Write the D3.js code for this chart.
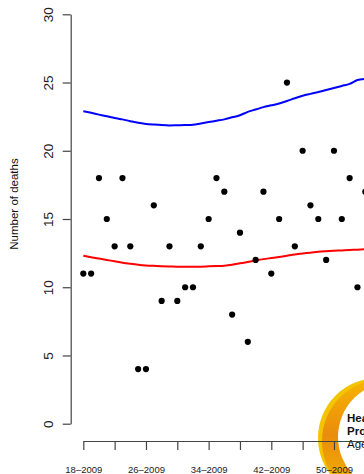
<!DOCTYPE html>
<html>
<head>
<meta charset="utf-8">
<script src="https://cdn.jsdelivr.net/npm/d3@7"></script>
<style>
  html, body { margin: 0; padding: 0; background: #fff; }
  svg { display: block; font-family: "Liberation Sans", Arial, Helvetica, sans-serif; }
</style>
</head>
<body>
<svg id="chart" width="364" height="474"></svg>
<script>
// ---- data ----
const weeks = [18,19,20,21,22,23,24,25,26,27,28,29,30,31,32,33,34,35,36,37,38,39,40,41,42,43,44,45,46,47,48,49,50,51,52,53,54];
const deaths = [11,11,18,15,13,18,13,4,4,16,9,13,9,10,10,13,15,18,17,8,14,6,12,17,11,15,25,13,20,16,15,12,20,15,18,10,17];
const upperThreshold = [22.9,22.78,22.65,22.53,22.4,22.3,22.17,22.05,21.97,21.92,21.88,21.86,21.87,21.88,21.9,22.0,22.1,22.2,22.3,22.45,22.6,22.85,23.02,23.2,23.33,23.47,23.65,23.85,24.03,24.17,24.3,24.45,24.6,24.75,24.9,25.18,25.27];
const expected = [12.31,12.2,12.1,12.0,11.9,11.8,11.72,11.65,11.6,11.57,11.54,11.52,11.5,11.5,11.5,11.51,11.53,11.55,11.58,11.65,11.75,11.85,11.96,12.06,12.14,12.22,12.31,12.4,12.47,12.53,12.6,12.64,12.67,12.7,12.73,12.75,12.78];
const yTicks = [0,5,10,15,20,25,30];
const xTicks = [18,22,26,30,34,38,42,46,50,54];
const xLabels = {18:"18–2009",26:"26–2009",34:"34–2009",42:"42–2009",50:"50–2009"};
const yTitle = "Number of deaths";
const logoLines = ["Health","Protection","Agency"];

const svg = d3.select("#chart");

const x = d3.scaleLinear().domain([18, 54]).range([83.3, 365.3]);
const y = d3.scaleLinear().domain([0, 30]).range([423.7, 14.3]);

// ---- logo (bottom right) ----
const logo = svg.append("g");
const defs = svg.append("defs");
const grad = defs.append("linearGradient").attr("id","orangeGrad")
  .attr("x1","0").attr("y1","0").attr("x2","0").attr("y2","1");
grad.append("stop").attr("offset","0%").attr("stop-color","#F7B500");
grad.append("stop").attr("offset","45%").attr("stop-color","#EA8C0C");
grad.append("stop").attr("offset","100%").attr("stop-color","#F4BE00");
function crescent(cx1, cy1, r1, cx2, cy2, r2) {
  const c = (cx, cy, r) => `M${cx - r},${cy} a${r},${r} 0 1,0 ${2*r},0 a${r},${r} 0 1,0 ${-2*r},0 Z`;
  return c(cx1, cy1, r1) + " " + c(cx2, cy2, r2);
}
logo.append("path")
  .attr("d", crescent(378, 438, 60, 384, 436, 54))
  .attr("fill", "#F3C400").attr("fill-rule", "evenodd");
logo.append("path")
  .attr("d", crescent(384, 441, 62, 393, 437, 55))
  .attr("fill", "url(#orangeGrad)").attr("fill-rule", "evenodd");
logo.selectAll("text.logo").data(logoLines).join("text")
  .attr("class","logo")
  .attr("x", 347)
  .attr("y", (d, i) => [422, 435, 448][i])
  .attr("font-size", 11.5)
  .attr("font-weight", (d, i) => i < 2 ? "bold" : "normal")
  .attr("fill", "#111")
  .text(d => d);

// ---- axes ----
const yAxis = d3.axisLeft(y).tickValues(yTicks).tickSize(8).tickSizeOuter(0);
const gy = svg.append("g").attr("transform", "translate(70.7,0)").call(yAxis);
gy.select(".domain").attr("stroke", "#444").attr("stroke-width", 1.2);
gy.selectAll(".tick line").attr("stroke", "#444").attr("stroke-width", 1.2);
gy.selectAll(".tick text")
  .attr("x", null).attr("dy", null)
  .attr("text-anchor", "middle")
  .attr("transform", "translate(-17.5,0) rotate(-90)")
  .attr("font-size", 13.5)
  .attr("font-family", "Liberation Sans, Arial, sans-serif")
  .attr("fill", "#222");

const xAxis = d3.axisBottom(x).tickValues(xTicks).tickSize(9).tickSizeOuter(0)
  .tickFormat(d => xLabels[d] || "");
const gx = svg.append("g").attr("transform", "translate(0,441)").call(xAxis);
gx.select(".domain").attr("stroke", "#444").attr("stroke-width", 1.2);
gx.selectAll(".tick line").attr("stroke", "#444").attr("stroke-width", 1.2);
gx.selectAll(".tick text")
  .attr("y", 31.5).attr("dy", null)
  .attr("font-size", 9.5)
  .attr("font-family", "Liberation Sans, Arial, sans-serif")
  .attr("fill", "#222");

// y title
svg.append("text")
  .attr("transform", "translate(18.3,204) rotate(-90)")
  .attr("text-anchor", "middle")
  .attr("font-size", 11.5)
  .attr("fill", "#111")
  .text(yTitle);

// ---- lines ----
const line = d3.line().x((d, i) => x(weeks[i])).y(d => y(d)).curve(d3.curveMonotoneX);
svg.append("path").datum(upperThreshold)
  .attr("d", line).attr("fill", "none").attr("stroke", "#0000FF").attr("stroke-width", 2);
svg.append("path").datum(expected)
  .attr("d", line).attr("fill", "none").attr("stroke", "#FF0000").attr("stroke-width", 2);

// ---- points ----
svg.selectAll("circle.pt").data(deaths).join("circle")
  .attr("class", "pt")
  .attr("cx", (d, i) => x(weeks[i]))
  .attr("cy", d => y(d))
  .attr("r", 3.1)
  .attr("fill", "#000");
</script>
</body>
</html>
